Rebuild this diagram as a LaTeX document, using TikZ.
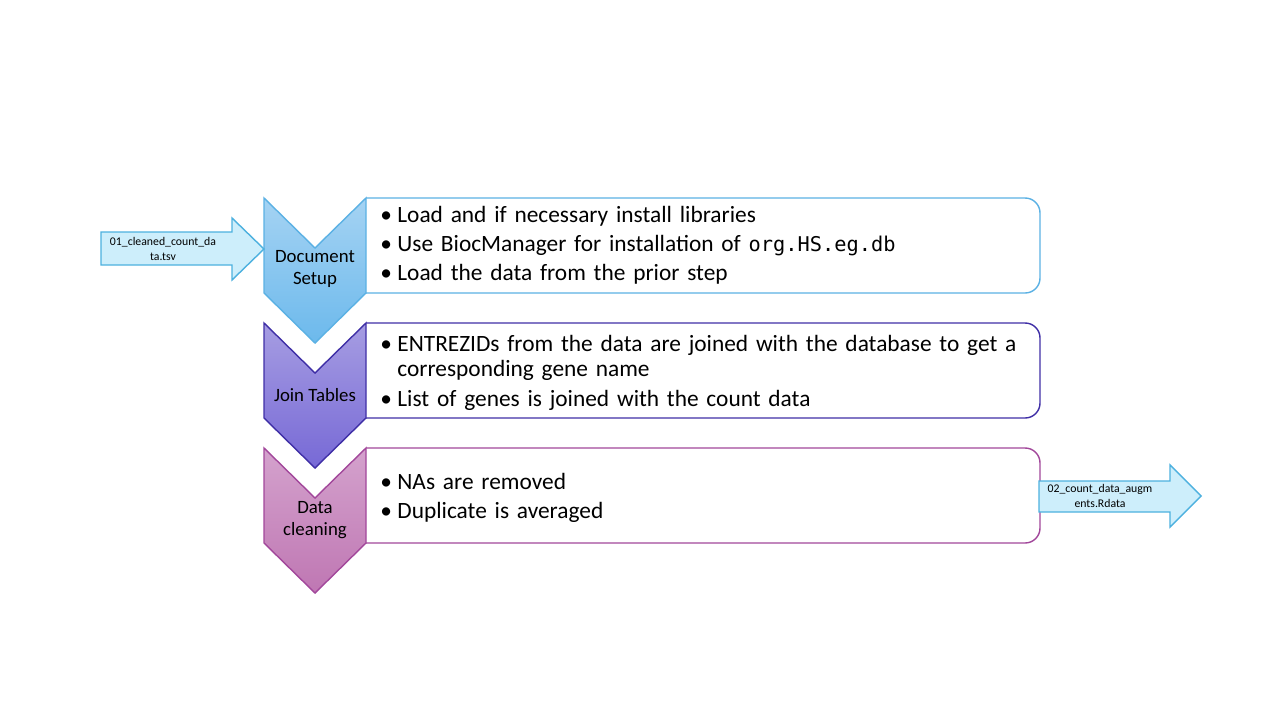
\documentclass[tikz,border=0pt]{standalone}
\usepackage{fontspec}
\setmainfont{Carlito}
\setmonofont{DejaVu Sans Mono}[Scale=0.87]
\begin{document}
\begin{tikzpicture}[x=0.02cm,y=-0.02cm,
  boxline/.style={line width=0.8pt,rounded corners=8.5pt, fill=white},
  chev/.style={line width=0.8pt},
  lbl/.style={font=\fontsize{10.7pt}{12.5pt}\selectfont, align=center, inner sep=0pt},
  blist/.style={anchor=north west, inner sep=0pt, text width=650*0.02cm, font=\fontsize{13.3pt}{14.4pt}\selectfont},
  arrlbl/.style={font=\fontsize{6.7pt}{9pt}\selectfont, align=center, inner sep=0pt}]
\newcommand{\bitem}[1]{\raggedright\hyphenpenalty=10000\hangindent=9.7pt\hangafter=1\noindent\makebox[9.7pt][l]{\textbullet}#1\par\vspace{2.2pt}}
\definecolor{c1top}{HTML}{A5D3F3}\definecolor{c1bot}{HTML}{6CB9EC}\definecolor{c1line}{HTML}{5BB1E4}
\definecolor{c2top}{HTML}{A69DE2}\definecolor{c2bot}{HTML}{7769D6}\definecolor{c2line}{HTML}{3F2FA6}
\definecolor{c3top}{HTML}{D4A2CD}\definecolor{c3bot}{HTML}{BF77B3}\definecolor{c3line}{HTML}{A2479B}
\definecolor{arrfill}{HTML}{CDEEFB}\definecolor{arrline}{HTML}{4DB1DF}
\useasboundingbox (0,0) rectangle (1280,720);
\fill[white] (0,0) rectangle (1280,720);
% boxes
\draw[boxline, draw=c1line] (366,198) -- (1040,198) -- (1040,293) -- (366,293);
\draw[boxline, draw=c2line] (366,323) -- (1040,323) -- (1040,418) -- (366,418);
\draw[boxline, draw=c3line] (366,448) -- (1040,448) -- (1040,543) -- (366,543);
% chevrons
\shade[top color=c1top, bottom color=c1bot] (264,198) -- (315,248) -- (366,198) -- (366,293) -- (315,343) -- (264,293) -- cycle;
\draw[chev, draw=c1line] (264,198) -- (315,248) -- (366,198) -- (366,293) -- (315,343) -- (264,293) -- cycle;
\shade[top color=c2top, bottom color=c2bot] (264,323) -- (315,373) -- (366,323) -- (366,418) -- (315,468) -- (264,418) -- cycle;
\draw[chev, draw=c2line] (264,323) -- (315,373) -- (366,323) -- (366,418) -- (315,468) -- (264,418) -- cycle;
\shade[top color=c3top, bottom color=c3bot] (264,448) -- (315,498) -- (366,448) -- (366,543) -- (315,593) -- (264,543) -- cycle;
\draw[chev, draw=c3line] (264,448) -- (315,498) -- (366,448) -- (366,543) -- (315,593) -- (264,543) -- cycle;
\node[lbl] (s1) at (315,269) {Document\\Setup};
\node[lbl] (s2) at (315,395) {Join Tables};
\node[lbl] (s3) at (315,520) {Data\\cleaning};
% lists
\node[blist] (l1) at (380,206) {\bitem{Load and if necessary install libraries}\bitem{Use BiocManager for installation of \texttt{org.HS.eg.db}}\bitem{Load the data from the prior step}};
\node[blist] (l2) at (380,335) {\bitem{ENTREZIDs from the data are joined with the database to get a\newline corresponding gene name}\bitem{List of genes is joined with the count data}};
\node[blist] (l3) at (380,473) {\bitem{NAs are removed}\bitem{Duplicate is averaged}};
% input arrow
\draw[line width=0.8pt, draw=arrline, fill=arrfill] (101,232) -- (232,232) -- (232,218) -- (264,249) -- (232,280) -- (232,265) -- (101,265) -- cycle;
\node[arrlbl] (in) at (163,249) {01\_cleaned\_count\_da\\ta.tsv};
% output arrow
\draw[line width=0.8pt, draw=arrline, fill=arrfill] (1039,481) -- (1170,481) -- (1170,465) -- (1201,496) -- (1170,527) -- (1170,512) -- (1039,512) -- cycle;
\node[arrlbl] (out) at (1100,496) {02\_count\_data\_augm\\ents.Rdata};
\end{tikzpicture}
\end{document}
